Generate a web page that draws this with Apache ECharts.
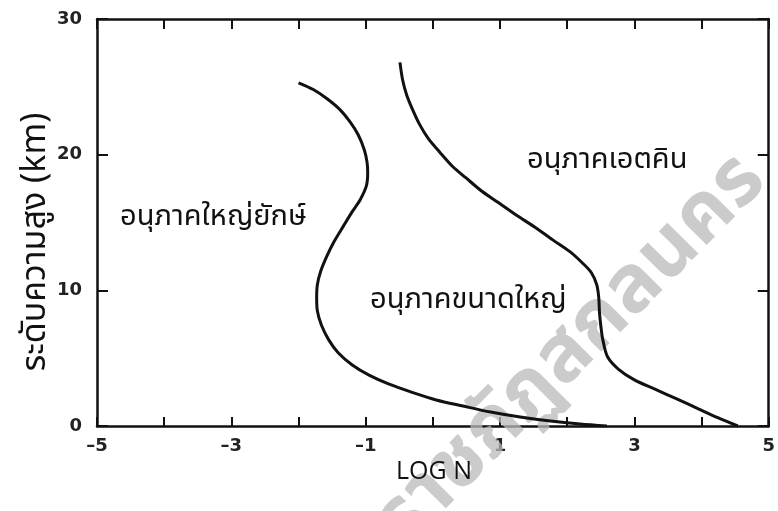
<!DOCTYPE html>
<html>
<head>
<meta charset="utf-8">
<script src="https://cdn.jsdelivr.net/npm/echarts@6/dist/echarts.min.js"></script>
<style>
html,body{margin:0;padding:0;background:#fff;}
#chart{width:778px;height:511px;}
</style>
</head>
<body>
<div id="chart"></div>
<script>
// Giant particles curve (อนุภาคใหญ่ยักษ์): log N vs altitude (km)
const giantX = [-2.00, -1.78, -1.57, -1.38, -1.23, -1.11, -1.02, -0.98, -0.97, -0.99, -1.08, -1.20, -1.33, -1.47, -1.58, -1.67, -1.72, -1.73, -1.72, -1.66, -1.55, -1.41, -1.20, -0.95, -0.66, -0.32, 0.05, 0.45, 0.86, 1.30, 1.75, 2.19, 2.59];
const giantY = [25.3, 24.8, 24.1, 23.3, 22.4, 21.45, 20.35, 19.45, 18.65, 17.7, 16.7, 15.8, 14.75, 13.6, 12.5, 11.4, 10.4, 9.45, 8.5, 7.45, 6.35, 5.4, 4.5, 3.75, 3.1, 2.5, 1.92, 1.47, 1.03, 0.66, 0.37, 0.15, 0.0];
// Aitken particles boundary curve (อนุภาคเอตคิน / อนุภาคขนาดใหญ่)
const aitkenX = [-0.49, -0.45, -0.39, -0.30, -0.20, -0.07, 0.10, 0.29, 0.49, 0.73, 0.98, 1.24, 1.52, 1.79, 2.04, 2.23, 2.36, 2.44, 2.47, 2.48, 2.50, 2.53, 2.60, 2.76, 3.00, 3.29, 3.63, 3.96, 4.25, 4.54];
const aitkenY = [26.8, 25.5, 24.4, 23.3, 22.25, 21.2, 20.2, 19.15, 18.3, 17.3, 16.45, 15.55, 14.65, 13.7, 12.85, 12.0, 11.3, 10.4, 9.45, 8.4, 7.4, 6.35, 5.1, 4.2, 3.4, 2.75, 2.0, 1.25, 0.6, 0.0];

const xTicks = [-5, -3, -1, 1, 3, 5];
const yTicks = [0, 10, 20, 30];
const regionLabels = ['อนุภาคใหญ่ยักษ์', 'อนุภาคขนาดใหญ่', 'อนุภาคเอตคิน'];
const xTitle = 'LOG N';
const yTitle = 'ระดับความสูง (km)';
const watermark = 'ราชภัฏสกลนคร';

const thaiFont = "Tahoma, 'Noto Sans Thai', 'Loma', 'Garuda', 'Norasi', 'Kinnari', 'Noto Sans', sans-serif";
const ink = '#111';

const chart = echarts.init(document.getElementById('chart'), null, {renderer: 'canvas'});

const axisLine = {show: true, onZero: false, lineStyle: {color: ink, width: 2.5}};
const tickLabelStyle = {color: '#222', fontFamily: "'DejaVu Sans', sans-serif", fontWeight: 'bold', fontSize: 18};

const option = {
  backgroundColor: '#fff',
  animation: false,
  grid: {left: 97, right: 2, top: 19, bottom: 85, containLabel: false},
  xAxis: [
    {type: 'value', position: 'bottom', min: -5, max: 5, interval: 1,
     axisLine: axisLine, splitLine: {show: false},
     axisTick: {show: true, inside: true, length: 9, lineStyle: {color: ink, width: 2}},
     axisLabel: Object.assign({margin: 11,
       formatter: v => xTicks.indexOf(v) >= 0 ? (v < 0 ? '\u2013' + Math.abs(v) : String(v)) : ''}, tickLabelStyle)},
    {type: 'value', position: 'top', min: -5, max: 5, interval: 1,
     axisLine: axisLine, splitLine: {show: false},
     axisTick: {show: true, inside: true, length: 10, lineStyle: {color: ink, width: 2}},
     axisLabel: {show: false}}
  ],
  yAxis: [
    {type: 'value', position: 'left', min: 0, max: 30, interval: 10,
     axisLine: axisLine, splitLine: {show: false},
     axisTick: {show: true, inside: true, length: 11, lineStyle: {color: ink, width: 2}},
     axisLabel: Object.assign({margin: 15,
       formatter: v => yTicks.indexOf(v) >= 0 ? String(v) : ''}, tickLabelStyle)},
    {type: 'value', position: 'right', min: 0, max: 30, interval: 10,
     axisLine: axisLine, splitLine: {show: false},
     axisTick: {show: true, inside: true, length: 11, lineStyle: {color: ink, width: 2}},
     axisLabel: {show: false}}
  ],
  series: [
    {type: 'line', name: 'giant', data: giantX.map((x, i) => [x, giantY[i]]),
     smooth: 0.3, showSymbol: false, lineStyle: {color: ink, width: 3}, z: 5},
    {type: 'line', name: 'aitken', data: aitkenX.map((x, i) => [x, aitkenY[i]]),
     smooth: 0.3, showSymbol: false, lineStyle: {color: ink, width: 3}, z: 5}
  ],
  graphic: [
    {type: 'text', z: 1, x: 575, y: 355, rotation: 0.79, origin: [0, 0],
     style: {text: watermark, fill: 'rgba(185,185,185,0.75)', font: "bold 80px " + thaiFont,
             textAlign: 'center', textVerticalAlign: 'middle'}},
    {type: 'text', z: 10, x: 120, y: 219,
     style: {text: regionLabels[0], fill: '#111', font: "29px " + thaiFont, textVerticalAlign: 'middle'}},
    {type: 'text', z: 10, x: 370, y: 302,
     style: {text: regionLabels[1], fill: '#111', font: "29px " + thaiFont, textVerticalAlign: 'middle'}},
    {type: 'text', z: 10, x: 527, y: 162,
     style: {text: regionLabels[2], fill: '#111', font: "29px " + thaiFont, textVerticalAlign: 'middle'}},
    {type: 'text', z: 10, x: 434, y: 472,
     style: {text: xTitle, fill: '#111', font: "25px 'Open Sans', " + thaiFont, textAlign: 'center', textVerticalAlign: 'middle'}},
    {type: 'text', z: 10, x: 38, y: 242, rotation: Math.PI / 2,
     style: {text: yTitle, fill: '#111', font: "34px " + thaiFont, textAlign: 'center', textVerticalAlign: 'middle'}}
  ]
};
chart.setOption(option);
</script>
</body>
</html>
